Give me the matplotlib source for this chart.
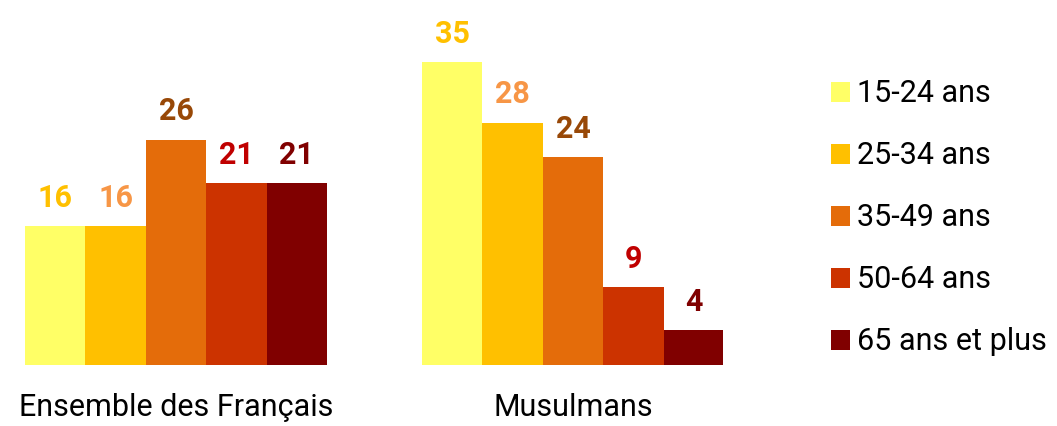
import numpy as np
import matplotlib.pyplot as plt
from matplotlib.patches import Patch

plt.rcParams['font.family'] = ['Roboto', 'DejaVu Sans']

groupes = ["Ensemble des Français", "Musulmans"]
tranches = ["15-24 ans", "25-34 ans", "35-49 ans", "50-64 ans", "65 ans et plus"]
ensemble = [16, 16, 26, 21, 21]
musulmans = [35, 28, 24, 9, 4]

couleurs = ["#FFFF66", "#FFC000", "#E46C0A", "#CC3300", "#800000"]
couleurs_txt = ["#FFC000", "#F79646", "#984807", "#C00000", "#800000"]

fig = plt.figure(figsize=(10.57, 4.26), dpi=100)
ax = fig.add_axes([25 / 1057, 61 / 426, 698 / 1057, 355 / 426])

largeur = 1.0
ecart = 95 / 60.4
debut = [0, 5 + ecart]

for g, valeurs in enumerate([ensemble, musulmans]):
    x = debut[g] + np.arange(5) * largeur + largeur / 2
    ax.bar(x, valeurs, width=largeur, color=couleurs)
    for xi, v, c in zip(x, valeurs, couleurs_txt):
        ax.annotate(str(v), (xi, v), xytext=(0, 14), textcoords="offset points",
                    ha="center", va="baseline", fontsize=22, fontweight="bold", color=c)

ax.set_xlim(0, 698 / 60.4)
ax.set_ylim(0, 355 / 8.657)
ax.set_xticks([d + 2.5 for d in debut])
ax.set_xticklabels(groupes, fontsize=22)
ax.tick_params(axis="x", length=0, pad=20)
ax.set_yticks([])
for s in ax.spines.values():
    s.set_visible(False)

poignees = [Patch(facecolor=c) for c in couleurs]
fig.legend(poignees, tranches, loc="center left", bbox_to_anchor=(831 / 1057, 1 - 218 / 426),
           frameon=False, fontsize=22, borderpad=0, borderaxespad=0,
           handlelength=0.62, handleheight=0.62, handletextpad=0.23, labelspacing=1.08)

fig.savefig("out.png", dpi=100)
